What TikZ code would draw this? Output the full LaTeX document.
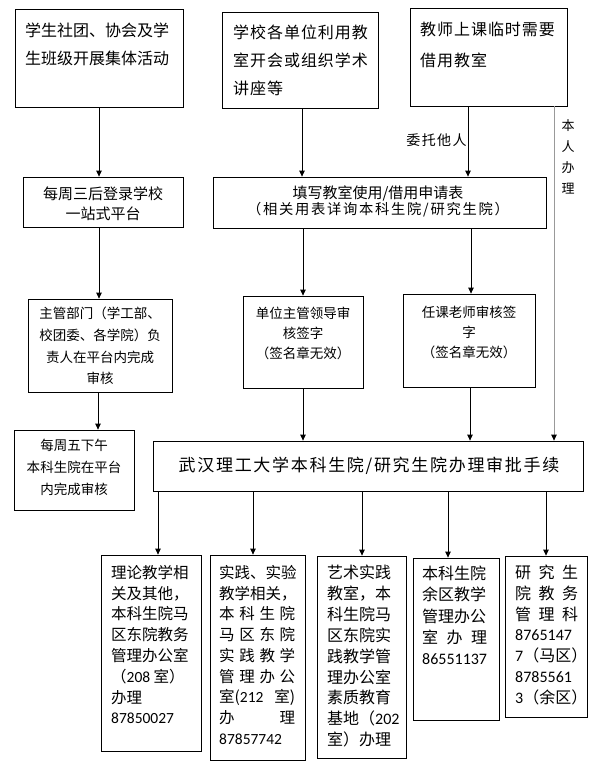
\documentclass[tikz,border=0pt]{standalone}
\usepackage{fontspec}
\setmainfont{Noto Sans CJK SC}
\newfontfamily\cjkA[LetterSpace=6]{Noto Sans CJK SC}
\newfontfamily\cjkB[LetterSpace=10]{Noto Sans CJK SC}
\newfontfamily\cjkC[LetterSpace=12]{Noto Sans CJK SC}
\newfontfamily\cali{Carlito}
\usetikzlibrary{arrows.meta}
\newcommand\jl[2]{\hbox to #1{#2}}
\begin{document}
\begin{tikzpicture}[x=1pt,y=-1pt,
  box/.style={draw, line width=0.8pt, inner sep=0pt},
  arr/.style={-{Triangle[length=6pt,width=5.5pt]}, line width=0.8pt},
  txt/.style={inner sep=0pt, align=left},
  ctxt/.style={inner sep=0pt, align=center}]
\fill[white] (0,0) rectangle (593,768);
\useasboundingbox (0,0) rectangle (593,768);

% boxes
\node[box, minimum width=168pt, minimum height=98pt] (b1) at (99,58) {};
\node[box, minimum width=156pt, minimum height=96pt] (b2) at (300,60) {};
\node[box, minimum width=157pt, minimum height=98pt] (b3) at (488.5,57) {};
\node[box, minimum width=160pt, minimum height=50pt] (b4) at (103,202) {};
\node[box, minimum width=333pt, minimum height=51pt] (b5) at (379.5,202.5) {};
\node[box, minimum width=144pt, minimum height=93pt] (b6) at (100,345.5) {};
\node[box, minimum width=120pt, minimum height=92pt] (b7) at (303,342) {};
\node[box, minimum width=132pt, minimum height=93pt] (b8) at (469,340.5) {};
\node[box, minimum width=120pt, minimum height=80pt] (b9) at (74,470) {};
\node[box, minimum width=430pt, minimum height=50pt] (b10) at (368,466) {};
\node[box, minimum width=100pt, minimum height=196pt] (bA) at (151,653) {};
\node[box, minimum width=95pt, minimum height=205pt] (bB) at (257.5,657.5) {};
\node[box, minimum width=89pt, minimum height=202pt] (bC) at (361.5,657) {};
\node[box, minimum width=86pt, minimum height=162pt] (bD) at (456,639) {};
\node[box, minimum width=82pt, minimum height=161pt] (bE) at (546,636.5) {};

% texts
\node[txt, anchor=north west, font=\fontsize{16}{28}\selectfont] (t1) at (25,22.8) {学生社团、协会及学\\生班级开展集体活动};
\node[txt, anchor=north west, font=\fontsize{16}{28}\cjkA] (t2) at (233,24.8) {学校各单位利用教\\室开会或组织学术\\讲座等};
\node[txt, anchor=north west, font=\fontsize{16}{31}\cjkA] (t3) at (420,21.8) {教师上课临时需要\\借用教室};
\node[ctxt, anchor=north, font=\fontsize{15}{20}\selectfont] (t4) at (103,186.3) {每周三后登录学校\\一站式平台};
\node[ctxt, anchor=north] (t5) at (378,186) {{\fontsize{15}{22}\selectfont 填写教室使用/借用申请表}\\{\fontsize{14.3}{22}\cjkC （相关用表详询本科生院/研究生院）}};
\node[ctxt, anchor=north, font=\fontsize{13.5}{21.7}\selectfont] (t6) at (100,306.9) {主管部门（学工部、\\校团委、各学院）负\\责人在平台内完成\\审核};
\node[ctxt, anchor=north, font=\fontsize{13.5}{20}\selectfont] (t7) at (303,306.9) {单位主管领导审\\核签字\\（签名章无效）};
\node[ctxt, anchor=north, font=\fontsize{13.5}{20}\selectfont] (t8) at (469,305.9) {任课老师审核签\\字\\（签名章无效）};
\node[ctxt, anchor=north, font=\fontsize{13.5}{22}\selectfont] (t9) at (74,438.9) {每周五下午\\本科生院在平台\\内完成审核};
\node[ctxt, anchor=center, font=\fontsize{17}{20}\cjkB] (t10) at (369,466) {武汉理工大学本科生院/研究生院办理审批手续};
\node[txt, anchor=north west, font=\fontsize{15.5}{20.8}\selectfont] (tA) at (111,565) {理论教学相\\关及其他，\\本科生院马\\区东院教务\\管理办公室\\（{\cali 208} 室）\\办理\\{\cali 87850027}};
\node[txt, anchor=north west, font=\fontsize{15.5}{20.75}\selectfont] (tB) at (219,565) {\jl{76pt}{实践、实验}\\教学相关，\\\jl{76pt}{本\hfill 科\hfill 生\hfill 院}\\\jl{76pt}{马\hfill 区\hfill 东\hfill 院}\\\jl{76pt}{实\hfill 践\hfill 教\hfill 学}\\\jl{76pt}{管\hfill 理\hfill 办\hfill 公}\\\jl{76pt}{室({\cali 212} 室)}\\\jl{76pt}{办\hfill 理}\\{\cali 87857742}};
\node[txt, anchor=north west, font=\fontsize{16}{20.9}\selectfont] (tC) at (327,564.8) {艺术实践\\教室，本\\科生院马\\区东院实\\践教学管\\理办公室\\素质教育\\基地（{\cali 202}\\室）办理};
\node[txt, anchor=north west, font=\fontsize{16}{21.25}\selectfont] (tD) at (422,565.8) {本科生院\\余区教学\\管理办公\\\jl{65pt}{室\hfill 办\hfill 理}\\{\cali 86551137}};
\node[txt, anchor=north west, font=\fontsize{16}{20.8}\selectfont] (tE) at (515,564.8) {\jl{63pt}{研\hfill 究\hfill 生}\\\jl{63pt}{院\hfill 教\hfill 务}\\\jl{63pt}{管\hfill 理\hfill 科}\\{\cali 8765147}\\{\cali 7}（马区）\\{\cali 8785561}\\{\cali 3}（余区）};

% connectors
\draw[arr] (b1.south) -- (b1.south |- b4.north);
\draw[arr] ([xshift=2pt]b2.south) -- ([xshift=2pt]b2.south |- b5.north);
\draw[arr] ([xshift=-20.5pt]b3.south) -- ([xshift=-20.5pt]b3.south |- b5.north)
  node[pos=0.48, left=1pt, inner sep=0pt, font=\fontsize{14}{16}\cjkB] (lw) {委托他人};
\draw[line width=0.8pt, gray!80, -{Triangle[length=6pt,width=5.5pt,color=black]}] ([xshift=65.5pt]b3.south) -- ([xshift=65.5pt]b3.south |- b10.north);
\node[ctxt, anchor=north, font=\fontsize{13}{21}\selectfont] (lb) at (568,119.2) {本\\人\\办\\理};
\draw[arr] ([xshift=-4pt]b4.south) -- ([xshift=-4pt]b4.south |- b6.north);
\draw[arr] (b7.north |- b5.south) -- (b7.north);
\draw[arr] ([xshift=2pt]b8.north |- b5.south) -- ([xshift=2pt]b8.north);
\draw[arr] ([xshift=-2pt]b6.south) -- ([xshift=-2pt]b6.south |- b9.north);
\draw[arr] (b7.south) -- (b7.south |- b10.north);
\draw[arr] ([xshift=1pt]b8.south) -- ([xshift=1pt]b8.south |- b10.north);
\draw[arr] ([xshift=7pt]bA.north |- b10.south) -- ([xshift=7pt]bA.north);
\draw[arr] ([xshift=-4.5pt]bB.north |- b10.south) -- ([xshift=-4.5pt]bB.north);
\draw[arr] ([xshift=0.5pt]bC.north |- b10.south) -- ([xshift=0.5pt]bC.north);
\draw[arr] ([xshift=-8pt]bD.north |- b10.south) -- ([xshift=-8pt]bD.north);
\draw[arr] (bE.north |- b10.south) -- (bE.north);
\end{tikzpicture}
\end{document}
